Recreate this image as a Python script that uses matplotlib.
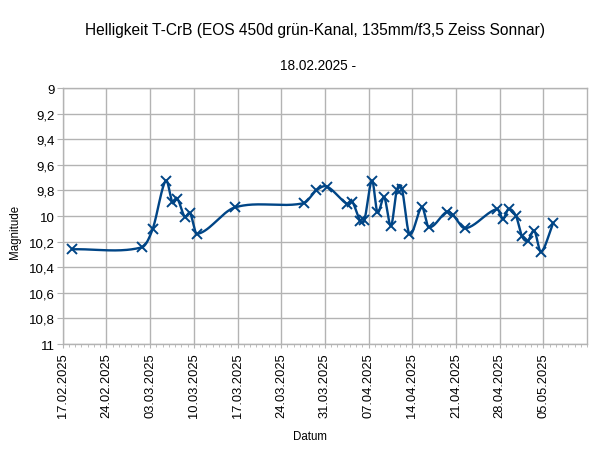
import numpy as np
import matplotlib
matplotlib.use("Agg")
import matplotlib.pyplot as plt
import matplotlib.dates as mdates
from matplotlib.ticker import FixedLocator, FuncFormatter
from datetime import datetime

plt.rcParams['font.family'] = ['Liberation Sans', 'DejaVu Sans']

# observation times and magnitudes
dates = [
    "2025-02-18 13:00", "2025-03-01 16:00", "2025-03-03 10:00", "2025-03-05 12:00",
    "2025-03-06 14:00", "2025-03-07 09:00", "2025-03-08 13:00", "2025-03-09 10:00",
    "2025-03-10 12:00", "2025-03-16 15:00", "2025-03-27 14:00", "2025-03-29 15:00",
    "2025-03-31 08:00", "2025-04-03 13:00", "2025-04-04 09:00", "2025-04-05 16:00",
    "2025-04-06 08:00", "2025-04-07 13:00", "2025-04-08 10:00", "2025-04-09 12:00",
    "2025-04-10 14:00", "2025-04-11 13:00", "2025-04-12 08:00", "2025-04-13 13:00",
    "2025-04-15 13:00", "2025-04-16 15:00", "2025-04-19 13:00", "2025-04-20 12:00",
    "2025-04-22 12:00", "2025-04-27 14:00", "2025-04-28 13:00", "2025-04-29 10:00",
    "2025-04-30 15:00", "2025-05-01 14:00", "2025-05-02 12:00", "2025-05-03 13:00",
    "2025-05-04 15:00", "2025-05-06 13:00",
]
magnitudes = [
    10.26, 10.245, 10.10, 9.724,
    9.893, 9.867, 10.005, 9.979,
    10.14, 9.932, 9.90, 9.80,
    9.77, 9.906, 9.888, 10.037,
    10.03, 9.724, 9.971, 9.854,
    10.076, 9.795, 9.789, 10.14,
    9.932, 10.088, 9.966, 9.992,
    10.096, 9.945, 10.023, 9.945,
    10.002, 10.159, 10.193, 10.115,
    10.279, 10.057,
]
y_ticks = [9.0, 9.2, 9.4, 9.6, 9.8, 10.0, 10.2, 10.4, 10.6, 10.8, 11.0]
x_start = "2025-02-17"
x_end = "2025-05-12"

title = "Helligkeit T-CrB (EOS 450d grün-Kanal, 135mm/f3,5 Zeiss Sonnar)"
subtitle = "18.02.2025 -"
xlabel = "Datum"
ylabel = "Magnitude"

color = "#004586"
grid_color = "#b3b3b3"


def smooth_line(x, y, per_seg=60):
    # cubic Hermite curve through the points (smoothed line rendering)
    x = np.asarray(x, float)
    y = np.asarray(y, float)
    k = len(x)
    m = np.zeros(k)
    m[0] = (y[1] - y[0]) / (x[1] - x[0])
    m[-1] = (y[-1] - y[-2]) / (x[-1] - x[-2])
    m[1:-1] = (y[2:] - y[:-2]) / (x[2:] - x[:-2])
    xs, ys = [], []
    for i in range(k - 1):
        h = x[i + 1] - x[i]
        s = np.linspace(0, 1, per_seg, endpoint=(i == k - 2))
        h00 = 2 * s ** 3 - 3 * s ** 2 + 1
        h10 = s ** 3 - 2 * s ** 2 + s
        h01 = -2 * s ** 3 + 3 * s ** 2
        h11 = s ** 3 - s ** 2
        xs.append(x[i] + s * h)
        ys.append(h00 * y[i] + h10 * h * m[i] + h01 * y[i + 1] + h11 * h * m[i + 1])
    return np.concatenate(xs), np.concatenate(ys)


dt = [datetime.strptime(d, "%Y-%m-%d %H:%M") for d in dates]
xnum = mdates.date2num(dt)

fig = plt.figure(figsize=(6.09, 4.56), dpi=100)
ax = fig.add_axes([0.103, 0.2434, 0.861, 0.5614])

x0 = mdates.date2num(datetime.strptime(x_start, "%Y-%m-%d"))
x1 = mdates.date2num(datetime.strptime(x_end, "%Y-%m-%d"))
ax.set_xlim(x0, x1)
ax.set_ylim(11, 9)

xs, ys = smooth_line(xnum, magnitudes)
ax.plot(xs, ys, color=color, lw=1.7, zorder=3)
ax.plot(xnum, magnitudes, linestyle="none", marker="x", ms=7.2, mew=1.4,
        color=color, zorder=4)

ax.xaxis.set_major_locator(FixedLocator(np.arange(x0, x1 - 0.5, 7)))
ax.xaxis.set_minor_locator(FixedLocator(np.arange(x0, x1 + 0.5, 1)))
ax.xaxis.set_major_formatter(mdates.DateFormatter("%d.%m.%Y"))
ax.yaxis.set_major_locator(FixedLocator(y_ticks))
ax.yaxis.set_major_formatter(FuncFormatter(
    lambda v, p: ("%g" % round(v, 1)).replace(".", ",")))

ax.grid(True, which="major", color=grid_color, lw=1.0)
ax.set_axisbelow(True)
for s in ax.spines.values():
    s.set_color(grid_color)
    s.set_linewidth(1.0)

ax.tick_params(axis="x", which="major", direction="out", length=3, color=grid_color,
               labelsize=9.3, labelrotation=90, pad=3)
ax.tick_params(axis="x", which="minor", direction="out", length=2.5, color=grid_color)
ax.tick_params(axis="y", which="major", direction="out", length=4, color=grid_color,
               labelsize=9.5, pad=1.5)
for lab in ax.get_xticklabels():
    lab.set_ha("center")

fig.text(310 / 609, 1 - 437 / 456, xlabel, ha="center", va="center", fontsize=8.3)
fig.text(15 / 609, 1 - 232 / 456, ylabel, ha="center", va="center", fontsize=8.3,
         rotation=90)

fig.text(315 / 609, 1 - 30 / 456, title, ha="center", va="center", fontsize=11.2)
fig.text(318 / 609, 1 - 66 / 456, subtitle, ha="center", va="center", fontsize=9.8)

fig.savefig("out.png", dpi=100)
